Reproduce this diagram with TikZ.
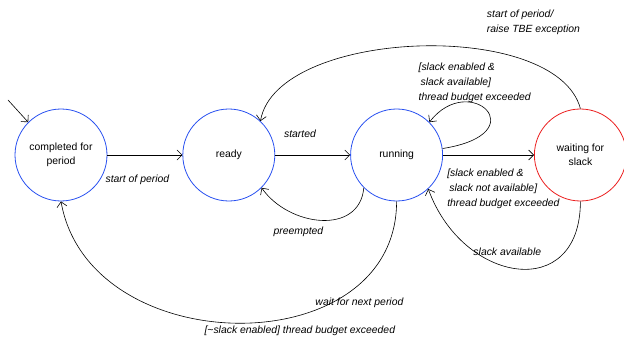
\documentclass[tikz,border=0pt]{standalone}
\usepackage{fontspec}
\setmainfont{Liberation Sans}
\usetikzlibrary{positioning,arrows.meta}
\definecolor{stateblue}{RGB}{40,80,240}
\definecolor{statered}{RGB}{235,30,30}
\begin{document}
\begin{tikzpicture}[x=1pt,y=1pt,font=\fontsize{10.4}{14}\selectfont,
    state/.style={circle,draw=stateblue,line width=0.8pt,minimum size=92pt,inner sep=0pt,align=center},
    trans/.style={-{Straight Barb[length=5pt,width=10pt]},line width=0.6pt},
    lbl/.style={font=\fontsize{10.4}{15}\selectfont\itshape,inner sep=1pt}]
 \useasboundingbox (0,0) rectangle (624,338);
 \node[state] (cfp) at (61,183) {completed for\\period};
 \node[state,right=75pt of cfp] (rdy) {ready};
 \node[state,right=75pt of rdy] (run) {running};
 \node[state,draw=statered,right=91pt of run] (wfs) {waiting for\\slack};
 \coordinate (init) at (8,238);
 \draw[trans] (init) -- (cfp.135);
 \draw[trans] (cfp) -- (rdy) node[lbl,pos=0.4,below=19pt] {start of period};
 \draw[trans] (rdy) -- (run) node[lbl,pos=0.33,above=16pt] {started};
 \draw[trans] (run.225) to[out=-95,in=-55,looseness=1.2]
  node[lbl,pos=0.5,below=5pt,xshift=-23pt] {preempted} (rdy.315);
 \draw[trans] (run.south) to[out=-90,in=-80,looseness=1.25]
  node[lbl,pos=0.2,below=17pt,xshift=-5pt] {wait for next period}
  node[lbl,pos=0.35,below=12pt,xshift=-9pt] {[\textasciitilde slack enabled] thread budget exceeded} (cfp.south);
 \draw[trans] (run.8) .. controls +(95,15) and +(40,52) .. (run.45)
  node[lbl,pos=0.75,above=-2pt,xshift=13pt,align=left] {[slack enabled \&\\\hspace*{2pt}slack available]\\thread budget exceeded};
 \draw[trans] (run) -- (wfs)
  node[lbl,pos=0,anchor=north west,xshift=3pt,yshift=-13pt,align=left] {[slack enabled \&\\\hspace*{2pt}slack not available]\\thread budget exceeded};
 \draw[trans] (wfs.south) to[out=-90,in=-70,looseness=1.7]
  node[lbl,pos=0.5,above=12pt,xshift=-10pt] {slack available} (run.313);
 \draw[trans] (wfs.north) to[out=105,in=80,looseness=0.75]
  node[lbl,pos=0.33,anchor=south west,xshift=-6pt,yshift=15pt,align=left] {start of period/\\raise TBE exception} (rdy.47);
\end{tikzpicture}
\end{document}
